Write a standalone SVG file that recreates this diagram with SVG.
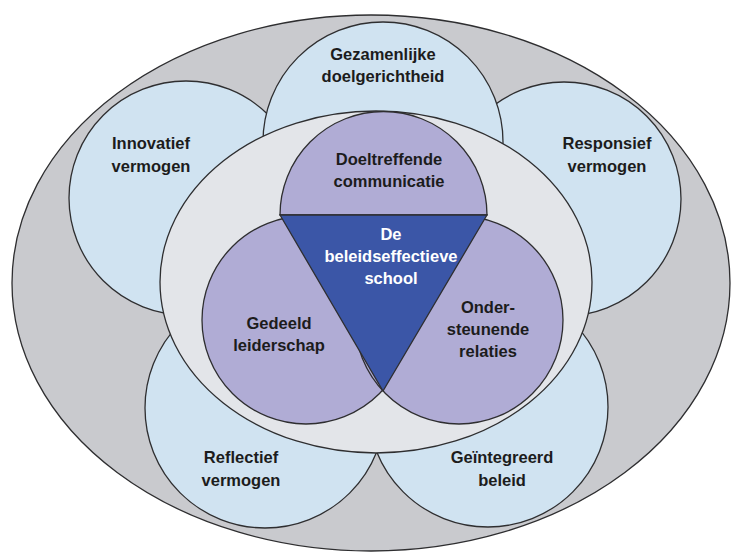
<svg xmlns="http://www.w3.org/2000/svg" width="733" height="552" viewBox="0 0 733 552">
  <style>
    .ln { stroke: #2e2e30; stroke-width: 1.3; }
    .outer { fill: #c9cace; }
    .blue { fill: #d0e3f1; }
    .inner { fill: #e3e5e9; }
    .purple { fill: #b0acd5; }
    .core { fill: #3b56a7; }
    text { font-family: "Liberation Sans", Arial, sans-serif; font-weight: bold; font-size: 16.5px; text-anchor: middle; fill: #1c1c1c; }
    text.w { fill: #ffffff; }
  </style>
  <rect width="733" height="552" fill="#ffffff"/>
  <g id="outer-ring">
    <ellipse class="outer ln" cx="371" cy="283" rx="359" ry="268"/>
  </g>
  <g id="reflectief-vermogen">
    <circle class="blue ln" cx="265" cy="408" r="120"/>
    <text x="241" y="463">Reflectief</text>
    <text x="241" y="486">vermogen</text>
  </g>
  <g id="geintegreerd-beleid">
    <circle class="blue ln" cx="488" cy="407" r="120"/>
    <text x="502" y="463">Geïntegreerd</text>
    <text x="502" y="486">beleid</text>
  </g>
  <g id="innovatief-vermogen">
    <circle class="blue ln" cx="186" cy="198" r="117"/>
    <text x="151" y="149">Innovatief</text>
    <text x="151" y="172">vermogen</text>
  </g>
  <g id="responsief-vermogen">
    <circle class="blue ln" cx="564" cy="199" r="117"/>
    <text x="607" y="149">Responsief</text>
    <text x="607" y="172">vermogen</text>
  </g>
  <g id="gezamenlijke-doelgerichtheid">
    <circle class="blue ln" cx="383" cy="142" r="120"/>
    <text x="383" y="60">Gezamenlijke</text>
    <text x="383" y="82">doelgerichtheid</text>
  </g>
  <g id="inner-ring">
    <ellipse class="inner ln" cx="376" cy="282" rx="216" ry="171"/>
  </g>
  <g id="gedeeld-leiderschap">
    <circle class="purple ln" cx="306" cy="320" r="104"/>
    <text x="279" y="329">Gedeeld</text>
    <text x="279" y="351">leiderschap</text>
  </g>
  <g id="ondersteunende-relaties">
    <circle class="purple ln" cx="459" cy="320" r="104"/>
    <text x="488" y="313">Onder-</text>
    <text x="488" y="335">steunende</text>
    <text x="488" y="357">relaties</text>
  </g>
  <g id="doeltreffende-communicatie">
    <path class="purple ln" d="M280,215 A103.5,103.5 0 0 1 487,215 Z"/>
    <text x="389" y="165">Doeltreffende</text>
    <text x="389" y="187">communicatie</text>
  </g>
  <g id="beleidseffectieve-school">
    <polygon class="core ln" points="280,215 487,215 383,391"/>
    <text class="w" x="391" y="240">De</text>
    <text class="w" x="391" y="262">beleidseffectieve</text>
    <text class="w" x="391" y="284">school</text>
  </g>
  <g id="connectors"/>
</svg>
